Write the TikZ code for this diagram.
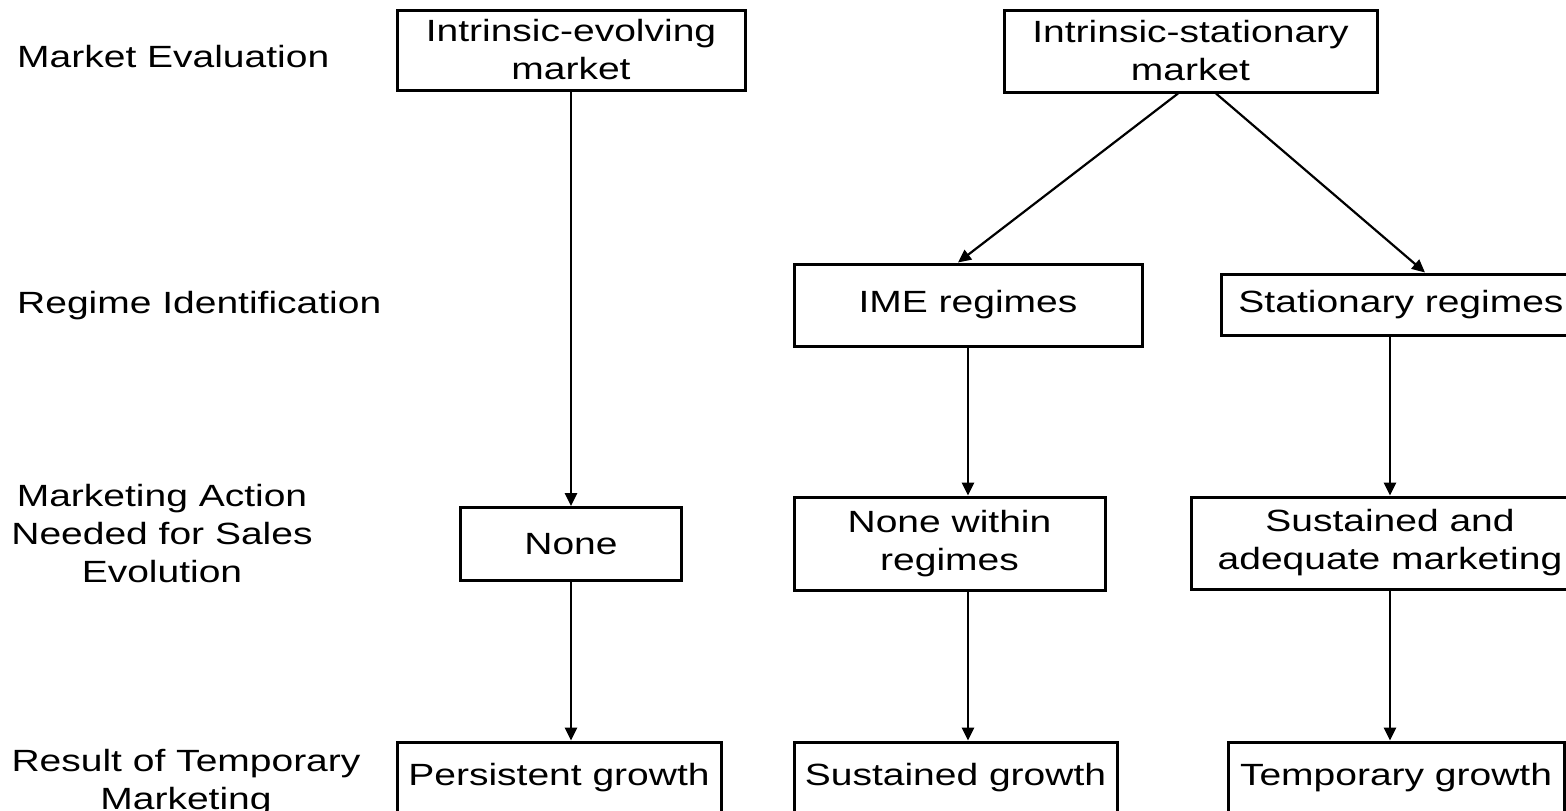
\documentclass[tikz,border=0pt]{standalone}
\usepackage{fontspec}
\setmainfont[FakeStretch=1.27]{Liberation Sans}
\usetikzlibrary{arrows.meta}
\begin{document}
\begin{tikzpicture}[x=1pt,y=-1pt,
  txt/.style={font=\fontsize{30.7}{38}\selectfont},
  box/.style={txt, draw, line width=3pt, align=center, inner sep=0pt},
  lab/.style={txt, align=center, inner sep=0pt},
  arr/.style={line width=2.6pt, -{Triangle[length=13pt,width=12pt]}}]
\clip (0,0) rectangle (1566,811);
\fill[white] (0,0) rectangle (1566,811);
% left labels
\node[lab, anchor=base west] (l1) at (17,67) {Market Evaluation};
\node[lab, anchor=base west] (l2) at (17,313) {Regime Identification};
\node[lab] (l3) at (162,533.5) {Marketing Action\\Needed for Sales\\Evolution};
\node[lab] (l4) at (186,783) {Result of Temporary\\Marketing};
% boxes
\node[box, minimum width=348pt, minimum height=80pt] (iem) at (571,50) {Intrinsic-evolving\\market};
\node[box, minimum width=373pt, minimum height=82pt] (ism) at (1190.5,51) {Intrinsic-stationary\\market};
\node[box, minimum width=348pt, minimum height=82pt] (ime) at (968,305) {IME regimes};
\node[box, minimum width=360pt, minimum height=61pt] (str) at (1401,304.5) {Stationary regimes};
\node[box, minimum width=221pt, minimum height=73pt] (none) at (571,544) {None};
\node[box, minimum width=311pt, minimum height=93pt] (nwr) at (949.5,543.5) {None within\\regimes};
\node[box, minimum width=398pt, minimum height=92pt] (saa) at (1390,543) {Sustained and\\adequate marketing};
\node[box, minimum width=324pt, minimum height=72pt] (pg) at (559,778) {Persistent growth};
\node[box, minimum width=323pt, minimum height=72pt] (sg) at (955.5,778) {Sustained growth};
\node[box, minimum width=336pt, minimum height=72pt] (tg) at (1396,778) {Temporary growth};
% arrows
\draw[arr] (iem.south) -- (none.north);
\draw[arr] (none.south) -- (none.south |- pg.north);
\draw[arr, line width=2.2pt] ([xshift=-12.5pt]ism.south) -- ([xshift=-10pt]ime.north);
\draw[arr, line width=2.2pt] ([xshift=25.5pt]ism.south) -- ([xshift=24pt]str.north);
\draw[arr] (ime.south) -- (ime.south |- nwr.north);
\draw[arr] ([xshift=-11pt]str.south) coordinate (s1) -- (s1 |- saa.north);
\draw[arr] (saa.south) -- (saa.south |- tg.north);
\draw[arr] ([xshift=18.5pt]nwr.south) coordinate (s2) -- (s2 |- sg.north);
\end{tikzpicture}
\end{document}
